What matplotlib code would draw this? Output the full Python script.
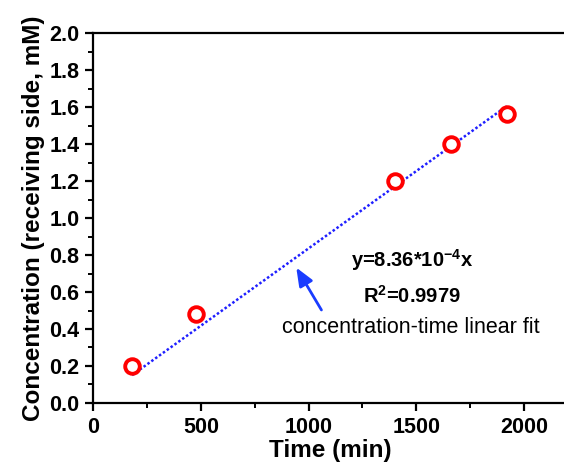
import numpy as np
import matplotlib.pyplot as plt
from matplotlib.ticker import MultipleLocator

plt.rcParams['font.family'] = ['Liberation Sans', 'DejaVu Sans']
plt.rcParams['mathtext.fontset'] = 'custom'
plt.rcParams['mathtext.rm'] = 'Liberation Sans'
plt.rcParams['mathtext.bf'] = 'Liberation Sans:bold'

# data
time_min = [180, 475, 1400, 1660, 1920]
conc = [0.20, 0.48, 1.20, 1.40, 1.56]
slope = 8.36e-4

fig = plt.figure(figsize=(5.64, 4.70), dpi=100)
ax = fig.add_axes([0.1654, 0.1426, 0.840, 0.787])

fit_x = np.array([min(time_min), max(time_min)])
ax.plot(fit_x, slope * fit_x, linestyle=(0, (1, 0.9)), color='#1f1fff', lw=1.8, zorder=2)
ax.plot(time_min, conc, 'o', mfc='white', mec='#ff0000', mew=2.8, ms=10.5, zorder=3)

ax.set_xlim(0, 2200)
ax.set_ylim(0, 2.0)
ax.xaxis.set_major_locator(MultipleLocator(500))
ax.xaxis.set_minor_locator(MultipleLocator(250))
ax.yaxis.set_major_locator(MultipleLocator(0.2))
ax.yaxis.set_minor_locator(MultipleLocator(0.1))
ax.yaxis.set_major_formatter(plt.FormatStrFormatter('%.1f'))

for s in ['left', 'bottom', 'top']:
    ax.spines[s].set_linewidth(1.6)
ax.spines['right'].set_visible(False)
ax.tick_params(which='major', direction='out', length=6, width=1.6, labelsize=15.5, pad=4)
ax.tick_params(which='minor', direction='out', length=3.5, width=1.4)
ax.tick_params(top=False, right=False)
for lab in ax.get_xticklabels() + ax.get_yticklabels():
    lab.set_fontweight('bold')

ax.set_xlabel('Time (min)', fontsize=17.5, fontweight='bold', labelpad=1)
ax.set_ylabel('Concentration (receiving side, mM)', fontsize=17.5, fontweight='bold', labelpad=3)

ax.text(1480, 0.775, r'y=8.36*10$^{\mathbf{-4}}$x', fontsize=14.5, fontweight='bold',
        ha='center', va='center')
ax.text(1480, 0.58, r'R$^{\mathbf{2}}$=0.9979', fontsize=14.5, fontweight='bold',
        ha='center', va='center')
ax.text(1475, 0.41, 'concentration-time linear fit', fontsize=15.5,
        ha='center', va='center')
ax.annotate('', xy=(936, 0.745), xytext=(1066, 0.49),
            arrowprops=dict(arrowstyle='-|>,head_width=0.45,head_length=1.1',
                            color='#1a3cff', lw=2))

fig.savefig('out.png', dpi=100)
